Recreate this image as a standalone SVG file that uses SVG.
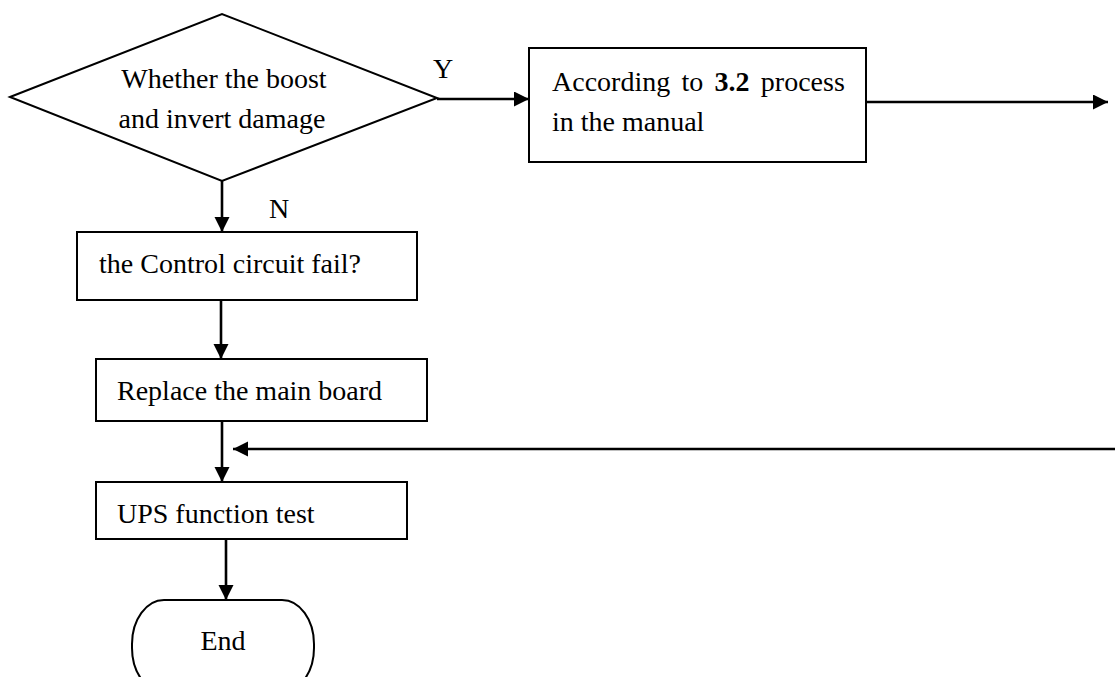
<svg xmlns="http://www.w3.org/2000/svg" width="1115" height="677" viewBox="0 0 1115 677">
  <style>
    .shape { fill: #ffffff; stroke: #000000; stroke-width: 2; }
    .conn { fill: none; stroke: #000000; stroke-width: 2.6; }
    .lbl { font-family: "Liberation Serif", "Times New Roman", serif; font-size: 28px; fill: #000000; }
  </style>
  <defs>
    <marker id="arrow" markerUnits="userSpaceOnUse" markerWidth="16" markerHeight="16" refX="15" refY="7.5" orient="auto">
      <path d="M0,0 L15,7.5 L0,15 z" fill="#000000"/>
    </marker>
  </defs>
  <rect width="1115" height="677" fill="#ffffff"/>

  <g id="connectors">
    <line class="conn" x1="437" y1="99" x2="529" y2="99" marker-end="url(#arrow)"/>
    <line class="conn" x1="866" y1="102" x2="1108" y2="102" marker-end="url(#arrow)"/>
    <line class="conn" x1="222" y1="181" x2="222" y2="232" marker-end="url(#arrow)"/>
    <line class="conn" x1="221" y1="300" x2="221" y2="359" marker-end="url(#arrow)"/>
    <line class="conn" x1="222" y1="421" x2="222" y2="482" marker-end="url(#arrow)"/>
    <line class="conn" x1="1115" y1="449" x2="233" y2="449" marker-end="url(#arrow)"/>
    <line class="conn" x1="226" y1="539" x2="226" y2="600" marker-end="url(#arrow)"/>
    <text class="lbl" x="443" y="78" text-anchor="middle">Y</text>
    <text class="lbl" x="279" y="218" text-anchor="middle">N</text>
  </g>

  <g id="decision">
    <polygon class="shape" points="10,97 222,14 437,98 222,181"/>
    <text class="lbl" x="224" y="88" text-anchor="middle">Whether the boost</text>
    <text class="lbl" x="222" y="128" text-anchor="middle">and invert damage</text>
  </g>

  <g id="process-manual">
    <rect class="shape" x="529" y="48" width="337" height="114"/>
    <text class="lbl" x="552" y="91" word-spacing="4.3">According to <tspan font-weight="bold">3.2</tspan> process</text>
    <text class="lbl" x="552" y="131">in the manual</text>
  </g>

  <g id="control-check">
    <rect class="shape" x="77" y="232" width="340" height="68"/>
    <text class="lbl" x="99" y="273">the Control circuit fail?</text>
  </g>

  <g id="replace-board">
    <rect class="shape" x="96" y="359" width="331" height="62"/>
    <text class="lbl" x="117" y="400">Replace the main board</text>
  </g>

  <g id="function-test">
    <rect class="shape" x="96" y="482" width="311" height="57"/>
    <text class="lbl" x="117" y="523">UPS function test</text>
  </g>

  <g id="end">
    <rect class="shape" x="132" y="600" width="182" height="92" rx="32" ry="44"/>
    <text class="lbl" x="223" y="650" text-anchor="middle">End</text>
  </g>
</svg>
